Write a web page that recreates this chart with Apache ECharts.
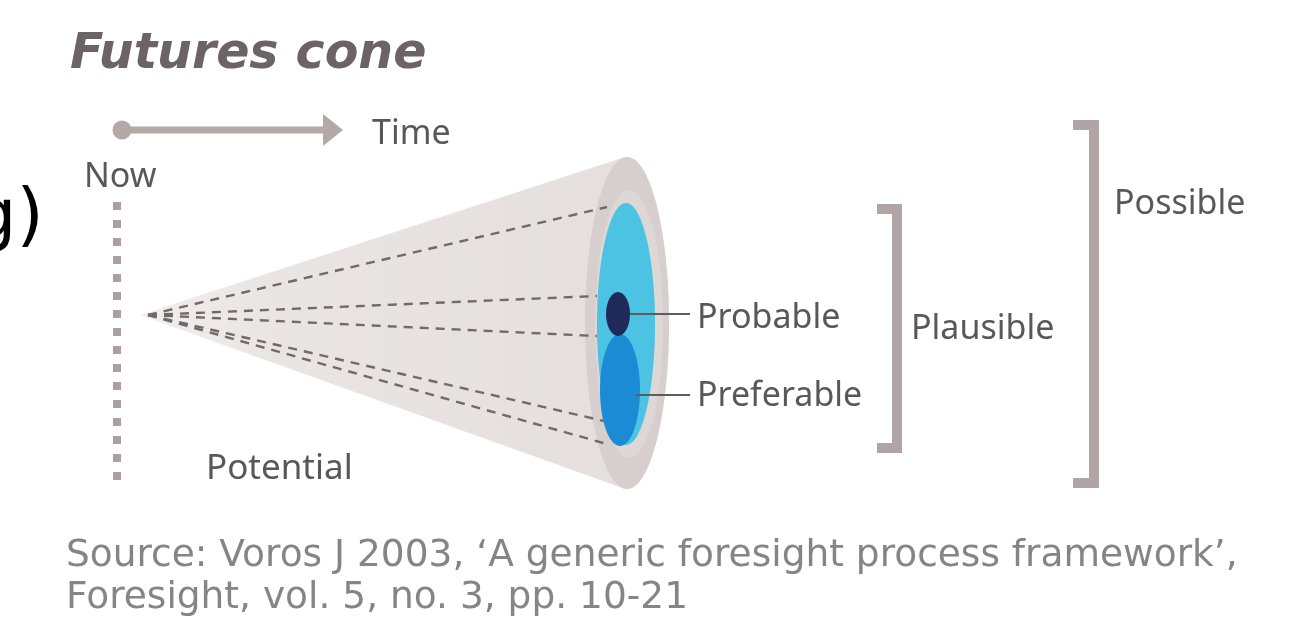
<!DOCTYPE html>
<html><head><meta charset="utf-8">
<script src="https://cdn.jsdelivr.net/npm/echarts@6/dist/echarts.min.js"></script>
<style>html,body{margin:0;padding:0;background:#fff;overflow:hidden}#c{width:1300px;height:630px}</style>
</head><body><div id="c"></div><script>
// ---- content ----
const titleText = 'Futures cone';
const timeLabels = ['Now', 'Time'];
const coneLabel = 'Potential';
const futureTypes = ['Probable', 'Preferable', 'Plausible', 'Possible'];
const sourceLines = ['Source: Voros J 2003, \u2018A generic foresight process framework\u2019,', 'Foresight, vol. 5, no. 3, pp. 10-21'];
const fragmentText = 'g)';

// ---- diagram geometry (diagram units on hidden 1300 x 630 axes) ----
const coneApex = [140, 315];
const coneMouth = [627, 323, 42, 166];        // cx, cy, rx, ry
const mouthInner = [629, 324, 34, 134];
const possibleSpace = [626, 324, 29, 121];
const preferableSpace = [620, 390, 20, 56];
const probableSpace = [618, 314, 12, 22];
const dashOrigin = [148, 315];
const dashEnds = [[607, 207], [597, 296], [597, 336], [604, 421], [607, 444]];
const timeArrow = [[122, 130], [343, 130]];
const nowLine = [[117, 202], [117, 480]];
const leaderLines = [[[630, 314], [690, 314]], [[636, 395], [690, 395]]];
const brackets = [[877, 897, 209, 448], [1073, 1094, 125, 483]]; // xEnd, xBar, yTop, yBottom
const labelPos = {
  title: [70, 55], now: [84, 177], time: [372, 134], potential: [206, 469],
  probable: [697, 318], preferable: [697, 396], plausible: [911, 329], possible: [1114, 204],
  source1: [66, 556], source2: [66, 598], fragment: [-28, 220]
};

const chart = echarts.init(document.getElementById('c'), null, {renderer: 'canvas'});
const FONT = '"Noto Sans", "Open Sans", sans-serif';
const WIDE = '"DejaVu Sans", "Noto Sans", sans-serif';
const TXT = '#58585a';

function renderItem(params, api) {
  const P = (p) => api.coord(p);
  const S = (dx, dy) => api.size([dx, dy]);
  const kids = [];
  const ell = (e, fill) => {
    const c = P([e[0], e[1]]); const s = S(e[2], e[3]);
    kids.push({type: 'ellipse', shape: {cx: c[0], cy: c[1], rx: s[0], ry: s[1]}, style: {fill: fill}});
  };
  const text = (t, pos, size, opts) => {
    const c = P(pos);
    kids.push({type: 'text', style: Object.assign({text: t, x: c[0], y: c[1], fontFamily: FONT, fontSize: size,
      fill: TXT, align: 'left', verticalAlign: 'middle'}, opts || {})});
  };
  // cone body: tangents from apex to mouth ellipse
  const [cx, cy, rx, ry] = coneMouth;
  const qx = (coneApex[0] - cx) / rx, qy = (coneApex[1] - cy) / ry;
  const d = Math.hypot(qx, qy), base = Math.atan2(qy, qx), off = Math.acos(1 / d);
  const poly = [P(coneApex)];
  const a1 = base + off, a2 = base - off + 2 * Math.PI;
  for (let i = 0; i <= 40; i++) {
    const a = a1 + (a2 - a1) * i / 40;
    poly.push(P([cx + rx * Math.cos(a), cy + ry * Math.sin(a)]));
  }
  kids.push({type: 'polygon', shape: {points: poly}, style: {fill: new echarts.graphic.LinearGradient(0, 0, 1, 0, [
    {offset: 0, color: '#f1eeed'}, {offset: 0.25, color: '#e9e5e3'}, {offset: 1, color: '#e4dfdd'}])}});
  ell(coneMouth, '#d6cfcd');
  ell(mouthInner, '#ddd7d5');
  ell(possibleSpace, '#4cc3e3');
  // dashed lines
  dashEnds.forEach(e => {
    const a = P(dashOrigin), b = P(e);
    kids.push({type: 'line', shape: {x1: a[0], y1: a[1], x2: b[0], y2: b[1]},
      style: {stroke: '#716a6a', lineWidth: 2.4, lineDash: [9, 7]}});
  });
  ell(preferableSpace, '#1a8bd4');
  ell(probableSpace, '#1f2a5b');
  // leader lines
  leaderLines.forEach(l => {
    const a = P(l[0]), b = P(l[1]);
    kids.push({type: 'line', shape: {x1: a[0], y1: a[1], x2: b[0], y2: b[1]}, style: {stroke: '#5d5d5f', lineWidth: 2}});
  });
  // now line (dotted)
  {
    const a = P(nowLine[0]), b = P(nowLine[1]);
    kids.push({type: 'line', shape: {x1: a[0], y1: a[1], x2: b[0], y2: b[1]},
      style: {stroke: '#aaa09f', lineWidth: 8, lineDash: [8, 10]}});
  }
  // time arrow
  {
    const a = P(timeArrow[0]), b = P(timeArrow[1]);
    const headL = S(20, 0)[0], headH = S(0, 16)[1];
    kids.push({type: 'line', shape: {x1: a[0], y1: a[1], x2: b[0] - headL + 2, y2: b[1]}, style: {stroke: '#b3a9a7', lineWidth: 7}});
    kids.push({type: 'circle', shape: {cx: a[0], cy: a[1], r: 9.5}, style: {fill: '#b3a9a7'}});
    kids.push({type: 'polygon', shape: {points: [[b[0], b[1]], [b[0] - headL, b[1] - headH], [b[0] - headL, b[1] + headH]]}, style: {fill: '#b3a9a7'}});
  }
  // brackets
  brackets.forEach(br => {
    const [xe, xb, yt, yb] = br;
    kids.push({type: 'polyline', shape: {points: [P([xe, yt]), P([xb, yt]), P([xb, yb]), P([xe, yb])]},
      style: {stroke: '#b0a5a4', lineWidth: 10, lineJoin: 'miter', fill: null}});
  });
  // texts
  text(titleText, labelPos.title, 49, {fontWeight: 'bold', fontStyle: 'italic', fill: '#6c6367', fontFamily: WIDE});
  text(timeLabels[0], labelPos.now, 34);
  text(timeLabels[1], labelPos.time, 34);
  text(coneLabel, labelPos.potential, 35);
  text(futureTypes[0], labelPos.probable, 34);
  text(futureTypes[1], labelPos.preferable, 34);
  text(futureTypes[2], labelPos.plausible, 34);
  text(futureTypes[3], labelPos.possible, 34);
  text(sourceLines[0], labelPos.source1, 37.5, {fill: '#858585', fontFamily: WIDE});
  text(sourceLines[1], labelPos.source2, 37.5, {fill: '#858585', fontFamily: WIDE});
  text(fragmentText, labelPos.fragment, 70, {fill: '#000', fontFamily: '"DejaVu Sans", sans-serif'});
  return {type: 'group', children: kids};
}

chart.setOption({
  animation: false,
  backgroundColor: '#ffffff',
  grid: {left: 0, right: 0, top: 0, bottom: 0},
  xAxis: {type: 'value', min: 0, max: 1300, show: false},
  yAxis: {type: 'value', min: 0, max: 630, inverse: true, show: false},
  series: [{type: 'custom', renderItem: renderItem, clip: false, data: [[0, 0]], silent: true}]
});
</script></body></html>
